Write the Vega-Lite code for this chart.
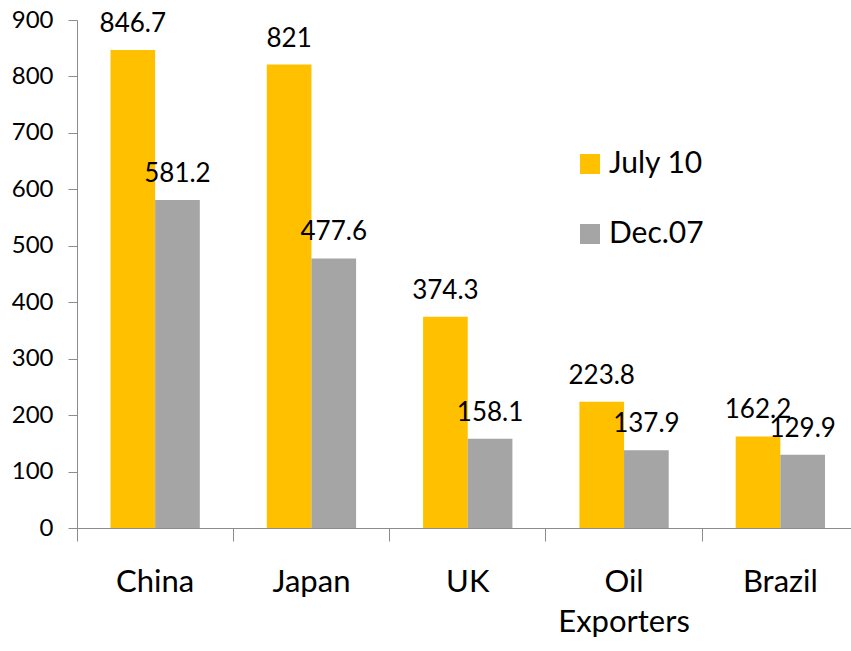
{
  "$schema": "https://vega.github.io/schema/vega-lite/v6.json",
  "autosize": "none",
  "width": 774,
  "height": 508,
  "padding": {"left": 77, "top": 20, "right": 0, "bottom": 123},
  "background": "white",
  "config": {"view": {"stroke": null}, "font": "Lato"},
  "data": {"values": [
    {"region": "China", "series": "July 10", "value": 846.7},
    {"region": "China", "series": "Dec.07", "value": 581.2},
    {"region": "Japan", "series": "July 10", "value": 821},
    {"region": "Japan", "series": "Dec.07", "value": 477.6},
    {"region": "UK", "series": "July 10", "value": 374.3},
    {"region": "UK", "series": "Dec.07", "value": 158.1},
    {"region": "Oil Exporters", "series": "July 10", "value": 223.8},
    {"region": "Oil Exporters", "series": "Dec.07", "value": 137.9},
    {"region": "Brazil", "series": "July 10", "value": 162.2},
    {"region": "Brazil", "series": "Dec.07", "value": 129.9}
  ]},
  "encoding": {
    "x": {
      "field": "region", "type": "nominal",
      "sort": ["China", "Japan", "UK", "Oil Exporters", "Brazil"],
      "scale": {"range": [0, 781.5], "paddingInner": 0, "paddingOuter": 0},
      "axis": {
        "title": null, "bandPosition": 0, "labelAngle": 0,
        "domainColor": "#8c8c8c", "tickColor": "#8c8c8c", "tickSize": 13,
        "labelFontSize": 31, "labelColor": "#000", "labelPadding": 26,
        "labelBaseline": "top", "labelLineHeight": 40, "labelOverlap": false,
        "labelExpr": "datum.label == 'Oil Exporters' ? ['Oil', 'Exporters'] : datum.label"
      }
    },
    "xOffset": {
      "field": "series", "type": "nominal", "sort": ["July 10", "Dec.07"],
      "scale": {"paddingInner": 0, "paddingOuter": 0.75}
    },
    "y": {
      "field": "value", "type": "quantitative",
      "scale": {"domain": [0, 900]},
      "axis": {
        "title": null, "grid": false,
        "values": [0, 100, 200, 300, 400, 500, 600, 700, 800, 900],
        "domainColor": "#8c8c8c", "tickColor": "#8c8c8c", "tickSize": 9,
        "labelPadding": 15, "labelFontSize": 24, "labelColor": "#000"
      }
    }
  },
  "layer": [
    {
      "mark": {"type": "bar"},
      "encoding": {
        "color": {
          "field": "series", "type": "nominal",
          "sort": ["July 10", "Dec.07"],
          "scale": {"domain": ["July 10", "Dec.07"], "range": ["#FFC000", "#A5A5A5"]},
          "legend": {
            "title": null, "orient": "none", "legendX": 498, "legendY": 129,
            "symbolType": "square", "symbolSize": 400, "symbolStrokeWidth": 0,
            "labelFontSize": 30, "labelColor": "#000", "labelOffset": 4, "rowPadding": 40
          }
        }
      }
    },
    {
      "mark": {"type": "text", "dy": -18, "baseline": "alphabetic", "fontSize": 26, "color": "#000"},
      "encoding": {"text": {"field": "value", "type": "quantitative"}}
    }
  ]
}
